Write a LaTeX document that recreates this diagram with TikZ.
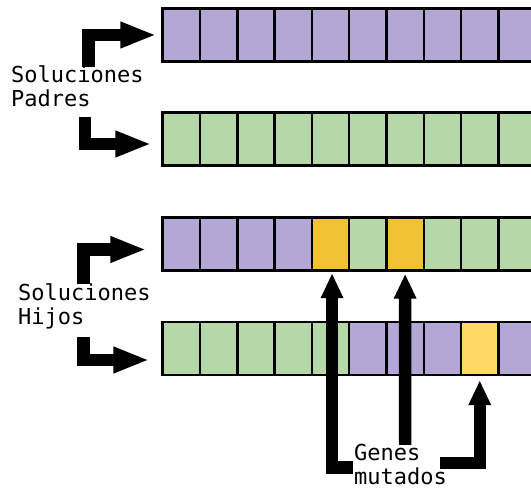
\documentclass[tikz,border=0pt]{standalone}
\usepackage{fontspec}
\setmonofont{DejaVu Sans Mono}
\usetikzlibrary{arrows.meta}
\definecolor{genpurple}{HTML}{B4A7D6}
\definecolor{gengreen}{HTML}{B6D7A8}
\definecolor{genorange}{HTML}{F1C232}
\definecolor{genyellow}{HTML}{FFD966}

\begin{document}
\begin{tikzpicture}[x=1pt, y=-1pt,
  font=\ttfamily\fontsize{22}{24}\selectfont,
  cell/.style={draw=black, line width=2.5pt, minimum width=37.3pt, minimum height=53pt, inner sep=0pt},
  lbl/.style={anchor=base west, align=left, inner sep=0pt},
  fat/.style={line width=12.5pt, -{Triangle[length=36pt,width=24pt]}},
  fatup/.style={line width=12.5pt, -{Triangle[length=25pt,width=21pt]}}
]
  \useasboundingbox (0,0) rectangle (531,489);
  \clip (0,0) rectangle (531,489);

  % two parents (a, b) and two children (c, d), ten genes each
  \foreach \row/\y/\genes in {
      a/35/{genpurple,genpurple,genpurple,genpurple,genpurple,genpurple,genpurple,genpurple,genpurple,genpurple},
      b/139/{gengreen,gengreen,gengreen,gengreen,gengreen,gengreen,gengreen,gengreen,gengreen,gengreen},
      c/244/{genpurple,genpurple,genpurple,genpurple,genorange,gengreen,genorange,gengreen,gengreen,gengreen},
      d/348.5/{gengreen,gengreen,gengreen,gengreen,gengreen,genpurple,genpurple,genpurple,genyellow,genpurple}}{
    \foreach \c [count=\i] in \genes
      \node[cell, fill=\c] (\row-\i) at (144.05+37.3*\i, \y) {};
  }

  % base anchor sits on the last line
  \node[lbl] (padres) at (11,106.7) {Soluciones\\Padres};
  \node[lbl] (hijos) at (18,325) {Soluciones\\Hijos};
  \node[lbl] (genes) at (354,484.5) {Genes\\mutados};

  \coordinate (padres-a) at (88.5,67);
  \coordinate (padres-b) at (85,117);
  \coordinate (hijos-a) at (83.7,284.3);
  \coordinate (hijos-b) at (83.7,336.7);
  \coordinate (genes-a) at (353.3,467.5);
  \coordinate (genes-b) at (405.15,445);
  \coordinate (genes-c) at (440,463);

  \draw[fat, shorten >=5pt] (padres-a) |- (a-1.west);
  \draw[fat, shorten >=10pt] (padres-b) |- ([yshift=-5pt]b-1.west);
  \draw[fat, shorten >=15pt] (hijos-a) |- ([yshift=-5.5pt]c-1.west);
  \draw[fat, shorten >=12pt] (hijos-b) |- ([yshift=-11.5pt]d-1.west);

  \draw[fatup, shorten >=1.5pt] (genes-a) -| ([xshift=1.5pt]c-5.south);
  \draw[fatup, shorten >=2pt] (genes-b) -- (c-7.south);
  \draw[fatup, shorten >=4pt] (genes-c) -| (d-9.south);
\end{tikzpicture}
\end{document}
